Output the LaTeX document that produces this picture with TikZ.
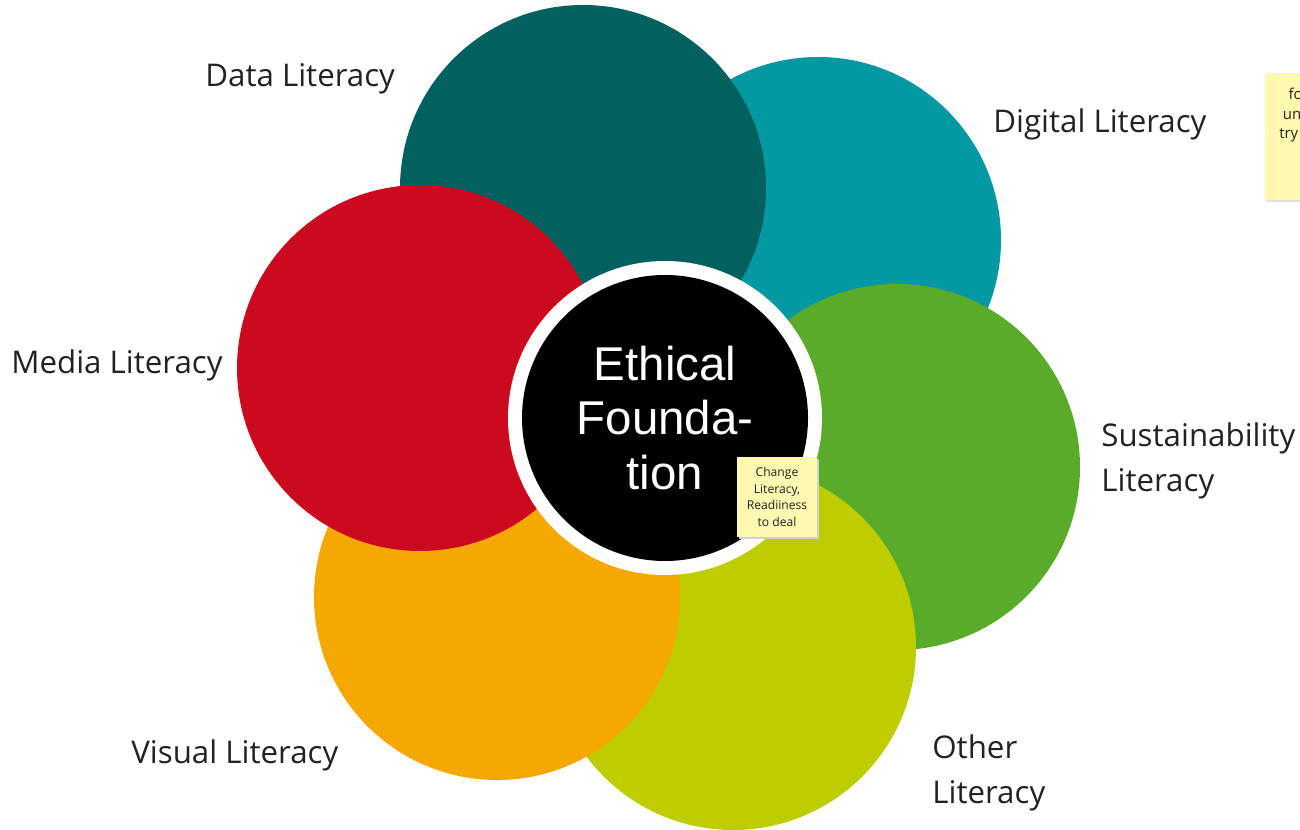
\documentclass[tikz,border=0pt]{standalone}
\usepackage{fontspec}
\setmainfont{Open Sans}
\newfontfamily\centrefont{Liberation Sans}
\definecolor{dataC}{HTML}{02615F}
\definecolor{digitalC}{HTML}{0499A2}
\definecolor{sustC}{HTML}{5AAB2A}
\definecolor{otherC}{HTML}{BDCD00}
\definecolor{visualC}{HTML}{F5A800}
\definecolor{mediaC}{HTML}{CC0A1F}
\definecolor{noteC}{HTML}{FFF8B0}
\definecolor{labelC}{HTML}{222222}
\tikzset{
  petal/.style={circle, inner sep=0pt, minimum size=366*0.02cm},
  litlabel/.style={text=labelC, font=\fontsize{17.8}{25.5}\selectfont, align=left, inner sep=0pt},
  sticky/.style={fill=noteC, inner sep=0pt, font=\fontsize{6.9}{9.6}\selectfont, text=labelC, align=center}
}
\begin{document}
\begin{tikzpicture}[x=0.02cm, y=-0.02cm]
  \useasboundingbox (0,0) rectangle (1300,830);
  % petals
  \node[petal, fill=digitalC] (digital) at (818,240) {};
  \node[petal, fill=dataC] (data) at (583,188) {};
  \node[petal, fill=sustC] (sust) at (897,467) {};
  \node[petal, fill=otherC] (other) at (733,647) {};
  \node[petal, fill=visualC] (visual) at (497,597) {};
  \node[petal, fill=mediaC] (media) at (420,368) {};
  % centre
  \node[circle, fill=white, minimum size=314*0.02cm] (ring) at (665,418) {};
  \node[circle, fill=black, minimum size=286*0.02cm, text=white, align=center,
        font=\centrefont\fontsize{27}{31}\selectfont] (ethic) at (ring) {Ethical\\Founda-\\tion};
  % labels
  \node[litlabel, anchor=west] (ldata) at (205,79) {Data Literacy};
  \node[litlabel, anchor=west] (ldigital) at (993,124) {Digital Literacy};
  \node[litlabel, anchor=west] (lmedia) at (11,365) {Media Literacy};
  \node[litlabel, anchor=west] (lsust) at (1101,461) {Sustainability\\Literacy};
  \node[litlabel, anchor=west] (lvisual) at (131,755) {Visual Literacy};
  \node[litlabel, anchor=west] (lother) at (932,773) {Other\\Literacy};
  % sticky notes
  \fill[black!18] (739,459) rectangle (819,539);
  \node[sticky, minimum width=80*0.02cm, minimum height=80*0.02cm] (change) at (777,497)
    {Change\\Literacy,\\Readiiness\\to deal};
  \fill[black!12] (1266,74) rectangle (1320,202);
  \node[sticky, anchor=north west, minimum width=60*0.02cm, minimum height=127*0.02cm] (side) at (1265,73) {};
  \node[text=labelC, font=\fontsize{8.5}{11}\selectfont, align=left, anchor=north west, inner sep=0pt] (sidetext) at (1279,88)
    {\hspace*{13\pgflinewidth}fo\\\hspace*{5\pgflinewidth}un\\try};
\end{tikzpicture}
\end{document}
